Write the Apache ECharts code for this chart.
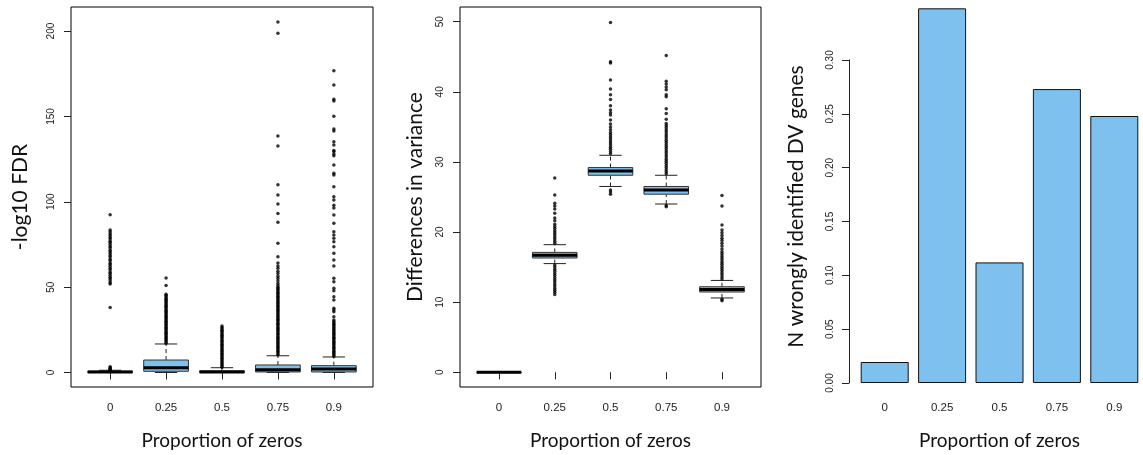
<!DOCTYPE html>
<html>
<head>
<meta charset="utf-8">
<script src="https://cdn.jsdelivr.net/npm/echarts@6/dist/echarts.min.js"></script>
<style>
html, body { margin: 0; padding: 0; background: #fff; }
#chart { width: 1143px; height: 455px; }
</style>
</head>
<body>
<div id="chart"></div>
<script>
// categories (proportion of zeros)
const categories = ['0', '0.25', '0.5', '0.75', '0.9'];

// -log10 FDR boxes: [lower whisker, q1, median, q3, upper whisker]
const fdrBox = [
	[0, 0, 0.3, 0.8, 1.3],
	[0, 0.7, 2.8, 7.3, 16.7],
	[0, 0, 0.3, 1.0, 2.8],
	[0, 0.3, 1.6, 4.4, 9.8],
	[0, 0.3, 2.0, 4.0, 9.1]
];
const fdrOut0 = [1.5, 1.9, 2.3, 2.8, 3.3, 38.0, 51.8, 52.6, 53.7, 54.9, 55.8, 57.0, 58.1, 58.9, 60.2, 61.1, 62.3, 63.4, 64.2, 65.5, 66.4, 67.6, 68.5, 69.7, 70.8, 71.6, 72.9, 73.8, 75.0, 76.1, 76.9, 78.2, 79.1, 80.3, 81.2, 82.4, 83.5, 92.4];
const fdrOut1 = [17.2, 17.9, 18.6, 19.3, 20.1, 20.8, 21.4, 22.2, 22.9, 23.6, 24.3, 25.1, 25.7, 26.5, 27.2, 27.9, 28.6, 29.4, 30.0, 30.8, 31.5, 32.2, 32.9, 33.7, 34.3, 35.1, 35.8, 36.5, 37.2, 38.0, 38.6, 39.4, 40.1, 40.8, 41.5, 42.3, 42.9, 43.7, 44.4, 45.2, 45.8, 51.0, 55.4];
const fdrOut2 = [3.1, 3.8, 4.6, 5.3, 6.1, 6.8, 7.6, 8.3, 9.1, 9.8, 10.6, 11.3, 12.1, 12.8, 13.6, 14.3, 15.1, 15.8, 16.6, 17.3, 18.1, 18.8, 19.6, 20.3, 21.1, 21.8, 22.6, 23.3, 24.1, 24.8, 25.6, 26.4, 27.2];
const fdrOut3 = [10.2, 10.9, 11.7, 12.4, 13.2, 13.9, 14.7, 15.4, 16.2, 16.9, 17.7, 18.4, 19.2, 19.9, 20.7, 21.4, 22.2, 22.9, 23.7, 24.4, 25.2, 25.9, 26.7, 27.4, 28.2, 28.9, 29.7, 30.4, 31.2, 31.9, 32.7, 33.4, 34.2, 34.9, 35.7, 36.4, 37.2, 37.9, 38.7, 39.4, 40.2, 40.9, 41.7, 42.4, 43.2, 43.9, 44.7, 45.4, 46.2, 46.9, 47.7, 48.4, 49.2, 50.0, 50.9, 52.2, 53.6, 55.1, 56.4, 58.0, 59.3, 61.0, 62.4, 64.1, 67.8, 75.7, 88.0, 93.2, 98.7, 104.0, 110.0, 132.7, 138.5, 198.7, 205.3];
const fdrOut4 = [9.5, 10.2, 11.0, 11.7, 12.5, 13.2, 14.0, 14.7, 15.5, 16.2, 17.0, 17.7, 18.5, 19.2, 20.0, 20.7, 21.5, 22.2, 23.0, 23.7, 24.5, 25.2, 26.0, 26.7, 27.5, 28.2, 29.0, 29.8, 30.8, 32.7, 35.6, 36.6, 37.6, 42.5, 44.4, 47.9, 49.3, 53.2, 55.2, 62.4, 65.9, 69.8, 73.7, 76.6, 78.6, 80.5, 82.5, 87.4, 92.3, 96.4, 98.0, 101.0, 103.0, 108.8, 115.7, 116.7, 121.5, 127.0, 128.0, 129.4, 130.0, 133.3, 135.2, 141.5, 142.6, 150.1, 159.0, 160.0, 168.4, 176.8];
const fdrTicks = [0, 50, 100, 150, 200];

// differences in variance boxes
const varBox = [
	[0, 0, 0, 0, 0],
	[15.5, 16.3, 16.7, 17.1, 18.2],
	[26.5, 28.1, 28.7, 29.2, 30.95],
	[24.0, 25.4, 26.0, 26.5, 28.1],
	[10.6, 11.45, 11.8, 12.2, 13.1]
];
const varOut0 = [];
const varOut1 = [11.1, 11.4, 11.7, 12.0, 12.3, 12.6, 12.9, 13.2, 13.5, 13.8, 14.1, 14.4, 14.7, 15.0, 15.3, 18.4, 18.7, 19.0, 19.3, 19.6, 19.9, 20.2, 20.5, 20.8, 21.1, 21.6, 22.0, 22.7, 23.3, 23.7, 24.1, 25.3, 27.7];
const varOut2 = [25.4, 25.7, 26.0, 31.2, 31.5, 31.8, 32.1, 32.4, 32.7, 33.0, 33.3, 33.6, 33.9, 34.2, 34.6, 35.0, 35.4, 36.0, 36.7, 37.0, 37.4, 38.0, 38.9, 39.6, 40.4, 41.7, 44.1, 44.3, 49.9];
const varOut3 = [23.6, 23.8, 28.3, 28.6, 28.9, 29.2, 29.5, 29.8, 30.1, 30.4, 30.7, 31.0, 31.3, 31.6, 31.9, 32.2, 32.5, 32.8, 33.1, 33.4, 33.7, 34.0, 34.3, 34.6, 34.9, 35.2, 35.5, 36.1, 36.9, 37.6, 39.3, 39.6, 40.3, 40.7, 41.1, 41.5, 45.2];
const varOut4 = [10.2, 10.4, 13.3, 13.6, 13.9, 14.2, 14.5, 14.8, 15.1, 15.4, 15.7, 16.0, 16.3, 16.6, 16.9, 17.2, 17.6, 18.0, 18.4, 18.8, 19.1, 19.5, 19.9, 20.3, 21.0, 23.7, 25.2];
const varTicks = [0, 10, 20, 30, 40, 50];

// proportion of wrongly identified DV genes
const wrongDV = [0.0195, 0.348, 0.112, 0.273, 0.248];

const boxFill = '#7EC0EE';
const catPos = [1, 2, 3, 4, 5];
const labelFont = 'Liberation Sans, Arial, sans-serif';
const titleFont = 'Lato, sans-serif';

function toBoxData(boxes) {
	return boxes.map(function (b, i) { return [i + 1].concat(b); });
}
function toOutData(groups) {
	const out = [];
	groups.forEach(function (g, i) {
		g.forEach(function (v) { out.push([i + 1, v]); });
	});
	return out;
}

function renderBox(params, api) {
	const x = api.value(0);
	const pLo = api.coord([x, api.value(1)]);
	const pQ1 = api.coord([x, api.value(2)]);
	const pMed = api.coord([x, api.value(3)]);
	const pQ3 = api.coord([x, api.value(4)]);
	const pHi = api.coord([x, api.value(5)]);
	const half = api.size([0.8, 0])[0] / 2;
	const cap = half / 2;
	const cx = pQ1[0];
	const thin = { stroke: '#222', lineWidth: 1 };
	const dash = { stroke: '#222', lineWidth: 1, lineDash: [4, 3] };
	function seg(x1, y1, x2, y2, style) {
		return { type: 'line', shape: { x1: x1, y1: y1, x2: x2, y2: y2 }, style: style };
	}
	return {
		type: 'group',
		children: [
			seg(cx, pQ3[1], cx, pHi[1], dash),
			seg(cx, pLo[1], cx, pQ1[1], dash),
			seg(cx - cap, pHi[1], cx + cap, pHi[1], thin),
			seg(cx - cap, pLo[1], cx + cap, pLo[1], thin),
			{
				type: 'rect',
				shape: { x: cx - half, y: pQ3[1], width: half * 2, height: Math.max(pQ1[1] - pQ3[1], 0.5) },
				style: { fill: boxFill, stroke: '#333', lineWidth: 1 }
			},
			seg(cx - half, pMed[1], cx + half, pMed[1], { stroke: '#000', lineWidth: 3 })
		]
	};
}

function boxXAxis(gridIndex) {
	return {
		gridIndex: gridIndex,
		type: 'value',
		min: 0.3,
		max: 5.7,
		axisLine: { show: false },
		splitLine: { show: false },
		axisTick: { show: true, inside: false, length: 7, customValues: catPos, lineStyle: { color: '#222' } },
		axisLabel: {
			customValues: catPos,
			formatter: function (v) { return categories[Math.round(v) - 1]; },
			fontFamily: labelFont, fontSize: 11.5, color: '#222', margin: 15
		},
		name: 'Proportion of zeros',
		nameLocation: 'middle',
		nameGap: 44,
		nameTextStyle: { fontFamily: titleFont, fontSize: 19, color: '#111' }
	};
}

function boxYAxis(gridIndex, min, max, ticks, title, gap) {
	return {
		gridIndex: gridIndex,
		type: 'value',
		min: min,
		max: max,
		axisLine: { show: false },
		splitLine: { show: false },
		axisTick: { show: true, inside: false, length: 7, customValues: ticks, lineStyle: { color: '#222' } },
		axisLabel: {
			customValues: ticks, rotate: 90,
			fontFamily: labelFont, fontSize: 10, color: '#222', margin: 15
		},
		name: title,
		nameLocation: 'middle',
		nameRotate: 90,
		nameGap: gap,
		nameTextStyle: { fontFamily: titleFont, fontSize: 21, color: '#111' }
	};
}

const myChart = echarts.init(document.getElementById('chart'));

let option = {
	animation: false,
	backgroundColor: '#fff',
	grid: [
		{ left: 71, top: 7, width: 302, height: 380, show: true, borderColor: '#000', borderWidth: 1, backgroundColor: 'transparent' },
		{ left: 460, top: 7, width: 301, height: 380, show: true, borderColor: '#000', borderWidth: 1, backgroundColor: 'transparent' },
		{ left: 856, top: 60, width: 290, height: 323 }
	],
	xAxis: [
		boxXAxis(0),
		boxXAxis(1),
		{
			gridIndex: 2,
			type: 'category',
			data: categories,
			axisLine: { show: false },
			axisTick: { show: false },
			axisLabel: { fontFamily: labelFont, fontSize: 11.5, color: '#222', margin: 19 },
			name: 'Proportion of zeros',
			nameLocation: 'middle',
			nameGap: 48,
			nameTextStyle: { fontFamily: titleFont, fontSize: 19, color: '#111' }
		}
	],
	yAxis: [
		boxYAxis(0, -8.5, 214.1, fdrTicks, '-log10 FDR', 40),
		boxYAxis(1, -2.1, 52.1, varTicks, 'Differences in variance', 34),
		{
			gridIndex: 2,
			type: 'value',
			min: 0,
			max: 0.3,
			interval: 0.05,
			offset: 7,
			axisLine: { show: true, lineStyle: { color: '#222' } },
			axisTick: { show: true, inside: false, length: 7, lineStyle: { color: '#222' } },
			splitLine: { show: false },
			axisLabel: {
				rotate: 90, fontFamily: labelFont, fontSize: 10, color: '#222', margin: 14,
				formatter: function (v) { return v.toFixed(2); }
			},
			name: 'N wrongly identified DV genes',
			nameLocation: 'middle',
			nameRotate: 90,
			nameGap: 42,
			nameTextStyle: { fontFamily: titleFont, fontSize: 21, color: '#111', padding: [0, 0, 0, 30] }
		}
	],
	series: [
		{
			type: 'custom', xAxisIndex: 0, yAxisIndex: 0,
			renderItem: renderBox, data: toBoxData(fdrBox),
			encode: { x: 0, y: [1, 2, 3, 4, 5] }, silent: true
		},
		{
			type: 'scatter', xAxisIndex: 0, yAxisIndex: 0,
			symbolSize: 3.5, itemStyle: { color: '#000' }, silent: true,
			data: toOutData([fdrOut0, fdrOut1, fdrOut2, fdrOut3, fdrOut4])
		},
		{
			type: 'custom', xAxisIndex: 1, yAxisIndex: 1,
			renderItem: renderBox, data: toBoxData(varBox),
			encode: { x: 0, y: [1, 2, 3, 4, 5] }, silent: true
		},
		{
			type: 'scatter', xAxisIndex: 1, yAxisIndex: 1,
			symbolSize: 3.5, itemStyle: { color: '#000' }, silent: true,
			data: toOutData([varOut0, varOut1, varOut2, varOut3, varOut4])
		},
		{
			type: 'bar', xAxisIndex: 2, yAxisIndex: 2,
			data: wrongDV, barWidth: 48, clip: false, silent: true,
			itemStyle: { color: boxFill, borderColor: '#111', borderWidth: 1 }
		}
	]
};

myChart.setOption(option);
</script>
</body>
</html>
